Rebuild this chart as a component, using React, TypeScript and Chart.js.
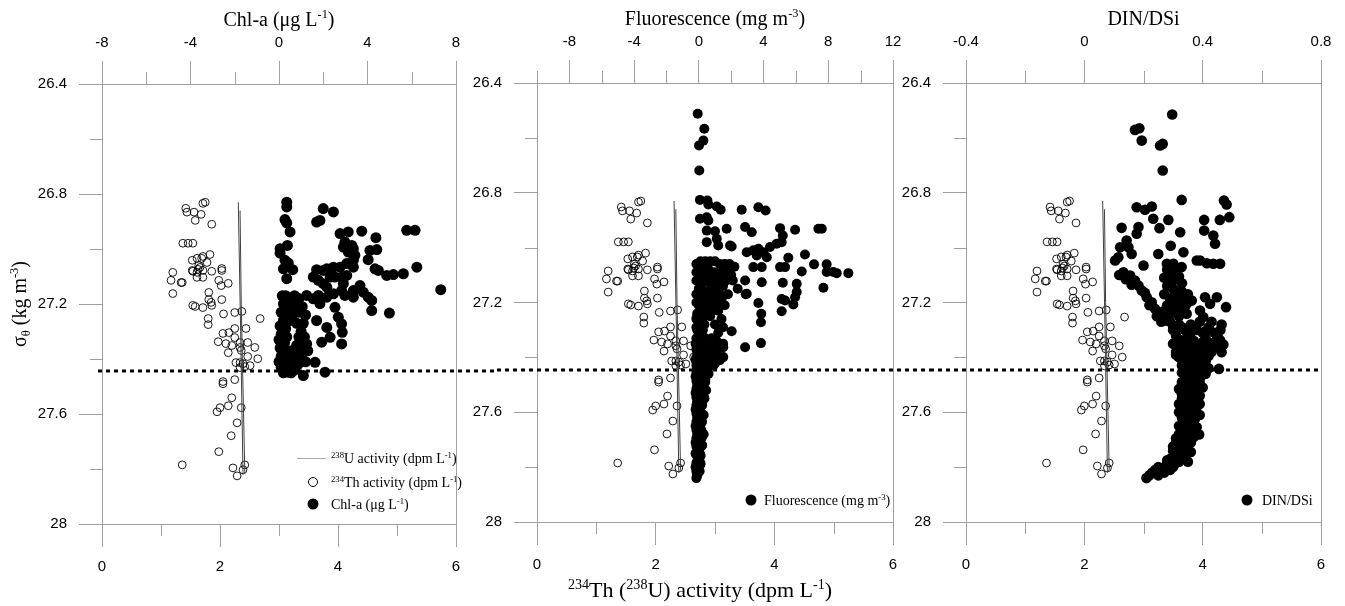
import React, { useEffect, useRef } from 'react';
import { Chart, registerables } from 'chart.js';

Chart.register(...registerables);

type Pt = [number, number];
type Seg = [string, number];

// ---------------- ticks ----------------
const sigmaTicks = [26.4, 26.8, 27.2, 27.6, 28];
const sigmaTickLabels = ['26.4', '26.8', '27.2', '27.6', '28'];
const sigmaMinor = [26.6, 27.0, 27.4, 27.8];
const activityTicks = [0, 2, 4, 6];
const activityTickLabels = ['0', '2', '4', '6'];
const activityMinor = [1, 3, 5];
const chlTicks = [-8, -4, 0, 4, 8];
const chlTickLabels = ['-8', '-4', '0', '4', '8'];
const chlMinor = [-6, -2, 2, 6];
const fluTicks = [-8, -4, 0, 4, 8, 12];
const fluTickLabels = ['-8', '-4', '0', '4', '8', '12'];
const fluMinor = [-10, -6, -2, 2, 6, 10];
const dinTicks = [-0.4, 0, 0.4, 0.8];
const dinTickLabels = ['-0.4', '0', '0.4', '0.8'];
const dinMinor = [-0.2, 0.2, 0.6];
const mixedLayerSigma = 27.445;

// ---------------- data (x, sigma-theta) ----------------
const uActivity: Pt[] = [
  [2.31, 26.83], [2.35, 27.3], [2.39, 27.82], [2.42, 27.81], [2.36, 27.2], [2.34, 26.86],
];

const thActivity: Pt[] = [
  [1.75, 26.830], [1.71, 26.834], [1.42, 26.852], [1.44, 26.866], [1.56, 26.866], [1.68, 26.874], [1.58, 26.896], [1.86, 26.910],
  [1.37, 26.979], [1.46, 26.979], [1.54, 26.979], [1.83, 27.020], [1.71, 27.027], [1.69, 27.034], [1.61, 27.034], [1.53, 27.041],
  [1.78, 27.049], [1.64, 27.060], [1.66, 27.067], [1.63, 27.074], [1.53, 27.078], [1.54, 27.081], [1.61, 27.085], [1.71, 27.078],
  [1.86, 27.081], [2.03, 27.071], [2.03, 27.078], [1.20, 27.085], [1.17, 27.114], [1.36, 27.122], [1.34, 27.122], [1.20, 27.162],
  [1.61, 27.103], [1.71, 27.103], [1.98, 27.114], [2.02, 27.133], [2.14, 27.125], [1.81, 27.158], [1.81, 27.184], [2.03, 27.184],
  [1.85, 27.194], [1.54, 27.205], [1.58, 27.209], [1.71, 27.213], [1.86, 27.205], [2.06, 27.236], [1.80, 27.253], [1.80, 27.275],
  [2.25, 27.231], [2.37, 27.227], [2.68, 27.253], [2.25, 27.289], [2.44, 27.289], [2.05, 27.307], [2.15, 27.304], [2.25, 27.322],
  [1.97, 27.337], [2.10, 27.344], [2.20, 27.351], [2.34, 27.340], [2.47, 27.340], [2.59, 27.358], [2.14, 27.377], [2.34, 27.358],
  [2.47, 27.391], [2.64, 27.399], [2.36, 27.369], [2.27, 27.413], [2.34, 27.413], [2.39, 27.417], [2.51, 27.424], [2.34, 27.431],
  [2.42, 27.428], [2.05, 27.482], [2.05, 27.490], [2.25, 27.475], [2.20, 27.541], [2.14, 27.570], [2.36, 27.577], [2.00, 27.577],
  [1.95, 27.592], [2.29, 27.632], [2.19, 27.679], [1.98, 27.737], [1.36, 27.785], [2.22, 27.796], [2.42, 27.785], [2.29, 27.825],
  [2.39, 27.803],
];

const chlA: Pt[] = [
  [0.35, 26.83], [0.35, 26.847], [2.0, 26.853], [2.46, 26.865], [1.85, 26.896], [1.70, 26.902], [0.27, 26.893], [0.35, 26.905],
  [0.50, 26.938], [2.76, 26.944], [3.13, 26.938], [3.74, 26.935], [5.77, 26.932], [6.15, 26.932], [4.38, 26.959], [2.98, 26.975],
  [3.29, 26.987], [3.36, 26.999], [0.38, 26.987], [0.05, 26.999], [0.05, 27.015], [0.27, 27.041], [0.42, 27.051], [0.20, 27.072],
  [0.62, 27.075], [0.35, 27.108], [2.91, 26.993], [3.13, 27.011], [3.43, 27.023], [4.11, 27.005], [4.42, 27.002], [4.03, 27.039],
  [3.36, 27.041], [3.06, 27.053], [2.76, 27.066], [2.46, 27.066], [2.16, 27.072], [2.0, 27.078], [1.70, 27.075], [1.55, 27.102],
  [1.78, 27.114], [2.0, 27.126], [2.16, 27.139], [2.31, 27.102], [2.53, 27.102], [2.83, 27.102], [3.06, 27.096], [3.36, 27.066],
  [4.34, 27.072], [4.49, 27.078], [4.87, 27.096], [5.17, 27.093], [5.62, 27.09], [6.23, 27.066], [7.31, 27.148], [3.66, 27.133],
  [3.81, 27.157], [4.03, 27.175], [4.19, 27.187], [3.36, 27.151], [2.91, 27.126], [2.83, 27.151], [2.98, 27.169], [3.36, 27.175],
  [4.19, 27.224], [4.99, 27.233], [2.46, 27.163], [2.16, 27.175], [1.78, 27.169], [1.55, 27.181], [1.25, 27.169], [1.85, 27.199],
  [2.53, 27.212], [2.68, 27.248], [2.83, 27.272], [2.86, 27.303], [2.16, 27.285], [1.70, 27.26], [2.31, 27.321], [1.93, 27.339],
  [2.83, 27.345], [1.25, 27.345], [1.63, 27.412], [2.08, 27.448], [1.10, 27.46], [0.42, 27.448],
  [0.15, 27.17], [0.3, 27.17], [0.5, 27.18], [0.7, 27.17], [0.9, 27.18], [0.2, 27.2], [0.45, 27.2], [0.65, 27.21], [0.85, 27.2],
  [1.05, 27.21], [0.1, 27.23], [0.35, 27.23], [0.6, 27.24], [0.9, 27.23], [1.2, 27.24], [0.2, 27.26], [0.5, 27.26], [0.8, 27.27],
  [1.1, 27.27], [0.05, 27.28], [0.3, 27.29], [1.0, 27.3], [0.1, 27.31], [0.35, 27.32], [0.9, 27.32], [1.15, 27.32], [0.0, 27.33],
  [0.25, 27.34], [0.8, 27.35], [1.1, 27.35], [0.05, 27.36], [0.3, 27.37], [0.55, 27.37], [0.85, 27.37], [1.3, 27.37], [0.1, 27.39],
  [0.4, 27.39], [0.7, 27.4], [1.0, 27.39], [0.0, 27.41], [0.25, 27.41], [0.55, 27.42], [0.85, 27.42], [1.2, 27.41], [0.1, 27.43],
  [0.4, 27.44], [0.7, 27.44], [0.2, 27.45], [0.55, 27.45],
];

const fluorescence: Pt[] = [
  [-0.07, 26.512], [0.34, 26.567], [0.28, 26.61], [0.01, 26.628], [0.03, 26.719], [0.07, 26.826], [0.53, 26.828], [0.59, 26.843],
  [1.11, 26.85], [1.35, 26.862], [2.65, 26.862], [3.68, 26.853], [4.13, 26.865], [0.07, 26.895], [0.49, 26.889], [0.59, 26.901],
  [0.49, 26.938], [1.0, 26.94], [1.72, 26.931], [2.86, 26.925], [3.27, 26.944], [5.02, 26.929], [5.95, 26.935], [7.39, 26.931],
  [7.6, 26.931], [0.49, 26.98], [1.11, 26.968], [1.2, 26.992], [1.93, 26.992], [2.03, 26.996], [5.19, 26.956], [5.12, 26.98],
  [4.81, 26.986], [4.4, 26.998], [3.99, 27.017], [3.68, 27.004], [3.37, 27.01], [2.96, 27.017], [3.58, 27.029], [4.2, 27.035],
  [5.53, 27.037], [6.56, 27.025], [7.12, 27.061], [7.9, 27.061], [8.52, 27.093], [9.24, 27.093], [7.7, 27.146], [5.02, 27.071],
  [5.33, 27.071], [6.36, 27.087], [7.9, 27.089], [8.31, 27.089], [3.89, 27.071], [3.89, 27.126], [3.37, 27.071], [2.86, 27.12],
  [5.19, 27.128], [6.05, 27.132], [6.05, 27.162], [5.95, 27.181], [5.12, 27.187], [5.33, 27.193], [5.84, 27.207], [5.12, 27.232],
  [3.68, 27.202], [3.86, 27.241], [3.84, 27.272], [3.84, 27.348], [2.86, 27.363], [2.96, 27.168], [2.03, 27.305], [1.51, 27.363],
  [1.51, 27.399], [1.0, 27.422], [0.4, 27.48], [0.3, 27.54], [0.2, 27.61], [0.2, 27.69], [0.2, 27.72],
  [0.1, 27.05], [0.4, 27.05], [0.7, 27.05], [1.0, 27.05], [1.3, 27.06], [1.6, 27.06], [1.9, 27.06], [2.2, 27.07], [0.2, 27.08],
  [0.6, 27.08], [1.0, 27.09], [1.4, 27.09], [1.8, 27.09], [0.0, 27.1], [0.5, 27.11], [0.9, 27.11], [1.3, 27.11], [1.7, 27.12],
  [2.1, 27.12], [0.2, 27.13], [0.7, 27.13], [1.1, 27.14], [1.5, 27.14], [2.4, 27.15], [0.0, 27.15], [0.45, 27.16], [0.9, 27.17],
  [1.3, 27.17], [1.8, 27.17], [2.9, 27.17], [0.1, 27.18], [0.5, 27.19], [0.9, 27.2], [1.3, 27.2], [1.6, 27.21], [0.0, 27.21],
  [0.4, 27.22], [0.8, 27.23], [1.2, 27.23], [-0.1, 27.24], [0.3, 27.25], [0.7, 27.25], [1.4, 27.26], [0.0, 27.27], [0.35, 27.28],
  [1.0, 27.28], [1.5, 27.29], [-0.1, 27.3], [0.25, 27.3], [1.2, 27.31], [0.0, 27.32], [0.4, 27.33], [0.8, 27.33], [1.1, 27.34],
  [1.5, 27.35], [-0.2, 27.35], [0.2, 27.36], [0.6, 27.37], [1.0, 27.37], [-0.1, 27.38], [0.3, 27.39], [0.7, 27.4], [1.3, 27.41],
  [-0.2, 27.41], [0.1, 27.42], [0.5, 27.43], [0.9, 27.43], [-0.1, 27.44], [0.3, 27.45], [0.6, 27.46], [-0.2, 27.47], [0.1, 27.48],
  [0.4, 27.49], [-0.1, 27.5], [0.2, 27.51], [0.45, 27.52], [-0.2, 27.53], [0.1, 27.54], [0.35, 27.55], [-0.1, 27.56], [0.2, 27.57],
  [-0.2, 27.59], [0.1, 27.6], [0.3, 27.61], [-0.1, 27.62], [0.15, 27.63], [-0.2, 27.65], [0.1, 27.66], [0.3, 27.68], [-0.1, 27.68],
  [0.1, 27.7], [-0.2, 27.71], [0.2, 27.72], [0.0, 27.73], [-0.2, 27.75], [0.1, 27.76], [-0.1, 27.78], [0.1, 27.79], [-0.2, 27.8],
  [0.0, 27.81], [-0.1, 27.83], [-0.15, 27.84],
  [-0.15, 27.455], [0.2, 27.455], [0.05, 27.47], [-0.15, 27.485], [0.2, 27.485], [0.05, 27.5], [-0.15, 27.515], [0.25, 27.515],
  [0.05, 27.53], [-0.15, 27.545], [0.2, 27.545], [0.0, 27.56], [-0.15, 27.575], [0.2, 27.575], [0.05, 27.59], [-0.15, 27.605],
  [0.15, 27.605], [0.0, 27.62], [-0.15, 27.635], [0.2, 27.635], [0.05, 27.65], [-0.15, 27.665], [0.15, 27.665], [0.0, 27.68],
  [-0.15, 27.695], [0.15, 27.695], [0.0, 27.71], [-0.15, 27.725], [0.15, 27.725], [0.0, 27.74], [-0.15, 27.755], [0.1, 27.755],
  [0.0, 27.77], [-0.15, 27.785], [0.1, 27.785], [-0.05, 27.8], [-0.15, 27.815], [0.05, 27.815], [-0.1, 27.83],
  [-0.15, 27.06], [-0.15, 27.09], [-0.15, 27.12], [-0.15, 27.17], [-0.15, 27.2], [-0.15, 27.26], [-0.15, 27.29], [-0.15, 27.33],
  [-0.15, 27.37], [-0.15, 27.4], [-0.15, 27.43], [0.25, 27.07], [0.35, 27.1], [0.15, 27.14], [0.3, 27.19], [0.15, 27.23],
  [0.5, 27.24], [0.2, 27.27], [0.15, 27.31], [0.2, 27.34], [0.45, 27.36], [0.1, 27.38], [0.5, 27.39], [0.25, 27.41],
  [0.45, 27.41], [0.15, 27.44], [0.45, 27.45], [0.85, 27.4], [1.1, 27.38], [1.2, 27.36], [0.9, 27.35], [1.25, 27.12],
  [1.55, 27.1], [2.0, 27.1], [0.75, 27.16], [1.05, 27.18], [1.45, 27.18], [0.65, 27.2], [1.1, 27.21], [0.55, 27.22],
];

const dinDsi: Pt[] = [
  [0.297, 26.515], [0.171, 26.571], [0.186, 26.565], [0.194, 26.61], [0.256, 26.628], [0.265, 26.622], [0.265, 26.719],
  [0.329, 26.826], [0.472, 26.828], [0.481, 26.843], [0.177, 26.853], [0.205, 26.862], [0.228, 26.85], [0.233, 26.895],
  [0.284, 26.899], [0.126, 26.928], [0.183, 26.925], [0.177, 26.949], [0.254, 26.929], [0.324, 26.944], [0.405, 26.899],
  [0.458, 26.899], [0.49, 26.889], [0.405, 26.938], [0.436, 26.956], [0.442, 26.986], [0.143, 26.974], [0.149, 26.999],
  [0.121, 26.999], [0.115, 27.035], [0.104, 27.047], [0.160, 27.023], [0.25, 27.023], [0.292, 26.993], [0.335, 27.017],
  [0.38, 27.047], [0.391, 27.047], [0.414, 27.057], [0.436, 27.059], [0.459, 27.059], [0.2, 27.065], [0.279, 27.059],
  [0.301, 27.059], [0.329, 27.071],
  [0.132, 27.09], [0.155, 27.102], [0.171, 27.12], [0.183, 27.138], [0.194, 27.156], [0.211, 27.181], [0.228, 27.199],
  [0.239, 27.223], [0.254, 27.241], [0.267, 27.259], [0.118, 27.1], [0.14, 27.115], [0.16, 27.135], [0.205, 27.165],
  [0.22, 27.21], [0.245, 27.25], [0.26, 27.27], [0.275, 27.265],
  [0.408, 27.181], [0.448, 27.181], [0.425, 27.205], [0.391, 27.229], [0.402, 27.253], [0.479, 27.217], [0.464, 27.28],
  [0.459, 27.338], [0.47, 27.353], [0.464, 27.381], [0.455, 27.442], [0.374, 27.624], [0.388, 27.681], [0.363, 27.193],
  [0.346, 27.205], [0.329, 27.229], [0.346, 27.241],
  [0.28, 27.08], [0.31, 27.09], [0.27, 27.11], [0.30, 27.12], [0.33, 27.13], [0.28, 27.14], [0.31, 27.16], [0.27, 27.17],
  [0.30, 27.18], [0.33, 27.19], [0.28, 27.21], [0.31, 27.22], [0.29, 27.24], [0.32, 27.25],
  [0.29, 27.27], [0.32, 27.28], [0.36, 27.28], [0.30, 27.30], [0.34, 27.30], [0.38, 27.30], [0.42, 27.29], [0.31, 27.32],
  [0.35, 27.32], [0.40, 27.31], [0.44, 27.31], [0.33, 27.34], [0.37, 27.34], [0.41, 27.33], [0.45, 27.33],
  [0.32, 27.36], [0.35, 27.36], [0.39, 27.36], [0.33, 27.38], [0.37, 27.38], [0.40, 27.39], [0.32, 27.40], [0.36, 27.41],
  [0.39, 27.42], [0.33, 27.43], [0.37, 27.44], [0.40, 27.45], [0.34, 27.46], [0.38, 27.47], [0.33, 27.49], [0.37, 27.5],
  [0.34, 27.52], [0.38, 27.53], [0.33, 27.55], [0.37, 27.56], [0.34, 27.58], [0.37, 27.6],
  [0.33, 27.62], [0.36, 27.63], [0.32, 27.65], [0.35, 27.66], [0.32, 27.68], [0.35, 27.69], [0.31, 27.71], [0.34, 27.72],
  [0.30, 27.74], [0.33, 27.75], [0.29, 27.77], [0.32, 27.78], [0.35, 27.78],
  [0.27, 27.8], [0.30, 27.8], [0.24, 27.81], [0.27, 27.82], [0.22, 27.83], [0.25, 27.83], [0.21, 27.84],
  [0.43, 27.27], [0.46, 27.3], [0.39, 27.27], [0.36, 27.31], [0.42, 27.35], [0.45, 27.36], [0.43, 27.38], [0.30, 27.35],
  [0.31, 27.38], [0.35, 27.375], [0.38, 27.4], [0.34, 27.415], [0.36, 27.445], [0.35, 27.475], [0.36, 27.51], [0.35, 27.54],
  [0.355, 27.57], [0.35, 27.59], [0.39, 27.48], [0.40, 27.51], [0.32, 27.515], [0.39, 27.57], [0.32, 27.57], [0.34, 27.605],
  [0.37, 27.64], [0.34, 27.64], [0.33, 27.67], [0.36, 27.675], [0.33, 27.7], [0.32, 27.73], [0.35, 27.735], [0.31, 27.76],
  [0.34, 27.76], [0.30, 27.79], [0.28, 27.795], [0.25, 27.80], [0.23, 27.82], [0.26, 27.815], [0.29, 27.81],
  [0.29, 27.1], [0.32, 27.105], [0.30, 27.15], [0.33, 27.16], [0.29, 27.195], [0.32, 27.205], [0.30, 27.235], [0.27, 27.23],
  [0.34, 27.215], [0.35, 27.17],
  [0.30, 27.285], [0.33, 27.29], [0.37, 27.295], [0.41, 27.305], [0.45, 27.32], [0.32, 27.335], [0.36, 27.35], [0.40, 27.345],
  [0.44, 27.345], [0.34, 27.365], [0.38, 27.37], [0.42, 27.365], [0.31, 27.39], [0.35, 27.395], [0.39, 27.385], [0.42, 27.395],
  [0.33, 27.41], [0.37, 27.42], [0.41, 27.415], [0.34, 27.435], [0.38, 27.43], [0.42, 27.44], [0.33, 27.455], [0.37, 27.46],
  [0.41, 27.46], [0.35, 27.485], [0.33, 27.5], [0.39, 27.495], [0.36, 27.525], [0.33, 27.535], [0.39, 27.54], [0.35, 27.555],
  [0.38, 27.58], [0.33, 27.585], [0.36, 27.6], [0.39, 27.61], [0.32, 27.6], [0.35, 27.62], [0.38, 27.655], [0.35, 27.645],
  [0.33, 27.655], [0.37, 27.69], [0.34, 27.685], [0.31, 27.695], [0.36, 27.71], [0.33, 27.72], [0.30, 27.725], [0.36, 27.745],
  [0.33, 27.74], [0.31, 27.745], [0.34, 27.77], [0.28, 27.775], [0.31, 27.785],
];

// ---------------- layout / style ----------------
const W = 1345;
const H = 606;
const GRAY = '#a0a0a0';
const SANS = "'Liberation Sans', Arial, sans-serif";
const SERIF = "'Liberation Serif', 'Times New Roman', serif";
const Y_W = 95;
const TOP_H = 70;
const BOT_H = 60;
const MAJOR = 23;
const MINOR = 12;

interface Panel {
  area: { left: number; right: number; top: number; bottom: number };
  topMin: number;
  topMax: number;
  topTicks: number[];
  topLabels: string[];
  topMinor: number[];
  filled: Pt[];
  filledR: number;
  title: Seg[];
  dotFrom: number;
  dotTo: number;
  legend: (ctx: CanvasRenderingContext2D) => void;
  extra?: (ctx: CanvasRenderingContext2D) => void;
}

function drawRich(ctx: CanvasRenderingContext2D, segs: Seg[], x: number, y: number, size: number, align: 'left' | 'center', supScale = 0.62) {
  const small = size * supScale;
  const widths: number[] = [];
  let total = 0;
  segs.forEach(([t, m]) => {
    ctx.font = `${m ? small : size}px ${SERIF}`;
    const w = ctx.measureText(t).width;
    widths.push(w);
    total += w;
  });
  let cx = align === 'center' ? x - total / 2 : x;
  ctx.textAlign = 'left';
  ctx.textBaseline = 'alphabetic';
  ctx.fillStyle = '#000';
  segs.forEach(([t, m], i) => {
    ctx.font = `${m ? small : size}px ${SERIF}`;
    const dy = m === 1 ? -size * 0.38 : m === -1 ? size * 0.22 : 0;
    ctx.fillText(t, cx, y + dy);
    cx += widths[i];
  });
}

function filledDot(ctx: CanvasRenderingContext2D, x: number, y: number, r: number) {
  ctx.beginPath();
  ctx.arc(x, y, r, 0, Math.PI * 2);
  ctx.fillStyle = '#000';
  ctx.fill();
}

const panels: Panel[] = [
  {
    area: { left: 102, right: 456, top: 84, bottom: 524 },
    topMin: -8, topMax: 8, topTicks: chlTicks, topLabels: chlTickLabels, topMinor: chlMinor,
    filled: chlA, filledR: 5.5,
    title: [['Chl-a (μg L', 0], ['-1', 1], [')', 0]],
    dotFrom: 98, dotTo: 497,
    legend: (ctx) => {
      ctx.strokeStyle = '#a8a8a8';
      ctx.lineWidth = 1;
      ctx.beginPath();
      ctx.moveTo(297, 458.5);
      ctx.lineTo(326, 458.5);
      ctx.stroke();
      ctx.beginPath();
      ctx.arc(313, 482, 4.5, 0, Math.PI * 2);
      ctx.strokeStyle = '#000';
      ctx.stroke();
      filledDot(ctx, 313, 504, 5.5);
      drawRich(ctx, [['238', 1], ['U activity (dpm L', 0], ['-1', 1], [')', 0]], 331, 463, 14, 'left');
      drawRich(ctx, [['234', 1], ['Th activity (dpm L', 0], ['-1', 1], [')', 0]], 331, 487, 14, 'left');
      drawRich(ctx, [['Chl-a (μg L', 0], ['-1', 1], [')', 0]], 331, 509, 14, 'left');
    },
    extra: (ctx) => {
      ctx.save();
      ctx.translate(26, 304);
      ctx.rotate(-Math.PI / 2);
      drawRich(ctx, [['σ', 0], ['θ', -1], [' (kg m', 0], ['-3', 1], [')', 0]], 0, 0, 20, 'center');
      ctx.restore();
    },
  },
  {
    area: { left: 537, right: 893, top: 83, bottom: 522 },
    topMin: -10, topMax: 12, topTicks: fluTicks, topLabels: fluTickLabels, topMinor: fluMinor,
    filled: fluorescence, filledR: 5,
    title: [['Fluorescence (mg m', 0], ['-3', 1], [')', 0]],
    dotFrom: 497, dotTo: 930,
    legend: (ctx) => {
      filledDot(ctx, 751, 500, 5.5);
      drawRich(ctx, [['Fluorescence (mg m', 0], ['-3', 1], [')', 0]], 764, 505, 14, 'left');
    },
    extra: (ctx) => {
      drawRich(ctx, [['234', 1], ['Th (', 0], ['238', 1], ['U) activity (dpm L', 0], ['-1', 1], [')', 0]], 700, 597, 22, 'center', 0.64);
    },
  },
  {
    area: { left: 966, right: 1321, top: 83, bottom: 522 },
    topMin: -0.4, topMax: 0.8, topTicks: dinTicks, topLabels: dinTickLabels, topMinor: dinMinor,
    filled: dinDsi, filledR: 5.3,
    title: [['DIN/DSi', 0]],
    dotFrom: 930, dotTo: 1322,
    legend: (ctx) => {
      filledDot(ctx, 1247, 500, 5.5);
      drawRich(ctx, [['DIN/DSi', 0]], 1262, 505, 14, 'left');
    },
  },
];

function linearAxis(position: string, min: number, max: number, ticks: number[], labels: string[], padding: number, reverse = false) {
  const horizontal = position === 'top' || position === 'bottom';
  return {
    type: 'linear',
    position,
    min,
    max,
    reverse,
    afterBuildTicks: (s: any) => {
      s.ticks = ticks.map((v) => ({ value: v }));
    },
    afterFit: (s: any) => {
      if (horizontal) s.height = position === 'top' ? TOP_H : BOT_H;
      else s.width = Y_W;
    },
    ticks: {
      callback: (_v: any, i: number) => labels[i],
      font: { family: SANS, size: 15 },
      color: '#000',
      padding,
      autoSkip: false,
      maxRotation: 0,
      minRotation: 0,
    },
    grid: {
      drawOnChartArea: false,
      drawTicks: true,
      tickLength: MAJOR,
      tickColor: GRAY,
      tickWidth: 1,
      color: GRAY,
    },
    border: { display: true, color: GRAY, width: 1 },
  };
}

function drawMinor(ctx: CanvasRenderingContext2D, scale: any, values: number[], side: string) {
  ctx.beginPath();
  values.forEach((v) => {
    const p = Math.round(scale.getPixelForValue(v)) + 0.5;
    if (side === 'left') {
      ctx.moveTo(scale.right - MINOR, p);
      ctx.lineTo(scale.right, p);
    } else if (side === 'top') {
      ctx.moveTo(p, scale.bottom - MINOR);
      ctx.lineTo(p, scale.bottom);
    } else {
      ctx.moveTo(p, scale.top);
      ctx.lineTo(p, scale.top + MINOR);
    }
  });
  ctx.strokeStyle = GRAY;
  ctx.lineWidth = 1;
  ctx.stroke();
}

function PanelChart({ panel }: { panel: Panel }) {
  const ref = useRef<HTMLCanvasElement>(null);
  useEffect(() => {
    const a = panel.area;
    const decor = {
      id: 'decor',
      beforeDatasetsDraw(chart: any) {
        const ctx = chart.ctx as CanvasRenderingContext2D;
        const y = Math.round(chart.scales.y.getPixelForValue(mixedLayerSigma));
        ctx.save();
        ctx.strokeStyle = '#000';
        ctx.lineWidth = 3;
        ctx.setLineDash([4, 4]);
        ctx.beginPath();
        ctx.moveTo(panel.dotFrom, y);
        ctx.lineTo(panel.dotTo, y);
        ctx.stroke();
        ctx.restore();
      },
      afterDraw(chart: any) {
        const ctx = chart.ctx as CanvasRenderingContext2D;
        ctx.save();
        drawMinor(ctx, chart.scales.y, sigmaMinor, 'left');
        drawMinor(ctx, chart.scales.xTop, panel.topMinor, 'top');
        drawMinor(ctx, chart.scales.x, activityMinor, 'bottom');
        drawRich(ctx, panel.title, (a.left + a.right) / 2, a.top - 58, 20, 'center');
        panel.legend(ctx);
        if (panel.extra) panel.extra(ctx);
        ctx.restore();
      },
    };
    const chart = new Chart(ref.current as HTMLCanvasElement, {
      type: 'scatter',
      data: {
        datasets: [
          {
            label: 'U',
            data: uActivity.map(([x, y]) => ({ x, y })),
            xAxisID: 'x',
            yAxisID: 'y',
            showLine: true,
            pointRadius: 0,
            borderColor: '#404040',
            borderWidth: 1,
            fill: false,
          },
          {
            label: 'Th',
            data: thActivity.map(([x, y]) => ({ x, y })),
            xAxisID: 'x',
            yAxisID: 'y',
            pointRadius: 3.9,
            pointBorderWidth: 0.9,
            pointBorderColor: '#000',
            pointBackgroundColor: 'rgba(0,0,0,0)',
            borderColor: '#000',
            backgroundColor: 'rgba(0,0,0,0)',
          },
          {
            label: 'filled',
            data: panel.filled.map(([x, y]) => ({ x, y })),
            xAxisID: 'xTop',
            yAxisID: 'y',
            pointRadius: panel.filledR,
            pointBorderWidth: 0,
            pointBackgroundColor: '#000',
            borderColor: '#000',
            backgroundColor: '#000',
          },
        ],
      } as any,
      options: {
        animation: false,
        responsive: false,
        devicePixelRatio: 1,
        events: [],
        layout: {
          padding: {
            left: a.left - Y_W,
            right: W - a.right,
            top: a.top - TOP_H,
            bottom: H - a.bottom - BOT_H,
          },
        },
        plugins: {
          legend: { display: false },
          tooltip: { enabled: false },
          title: { display: false },
        },
        scales: {
          x: linearAxis('bottom', 0, 6, activityTicks, activityTickLabels, 11),
          xTop: linearAxis('top', panel.topMin, panel.topMax, panel.topTicks, panel.topLabels, 9),
          y: linearAxis('left', 26.4, 28, sigmaTicks, sigmaTickLabels, 12, true),
          yR: {
            type: 'linear',
            position: 'right',
            min: 26.4,
            max: 28,
            reverse: true,
            afterFit: (s: any) => {
              s.width = 0;
            },
            ticks: { display: false },
            grid: { display: false, drawTicks: false },
            border: { display: true, color: GRAY, width: 1 },
          },
        } as any,
      },
      plugins: [decor],
    });
    return () => chart.destroy();
  }, [panel]);
  return (
    <canvas
      ref={ref}
      width={W}
      height={H}
      style={{ position: 'absolute', left: 0, top: 0, width: W, height: H }}
    />
  );
}

export default function App() {
  return (
    <div style={{ position: 'fixed', left: 0, top: 0, width: W, height: H, background: '#fff', overflow: 'hidden' }}>
      {panels.map((p, i) => (
        <PanelChart key={i} panel={p} />
      ))}
    </div>
  );
}
